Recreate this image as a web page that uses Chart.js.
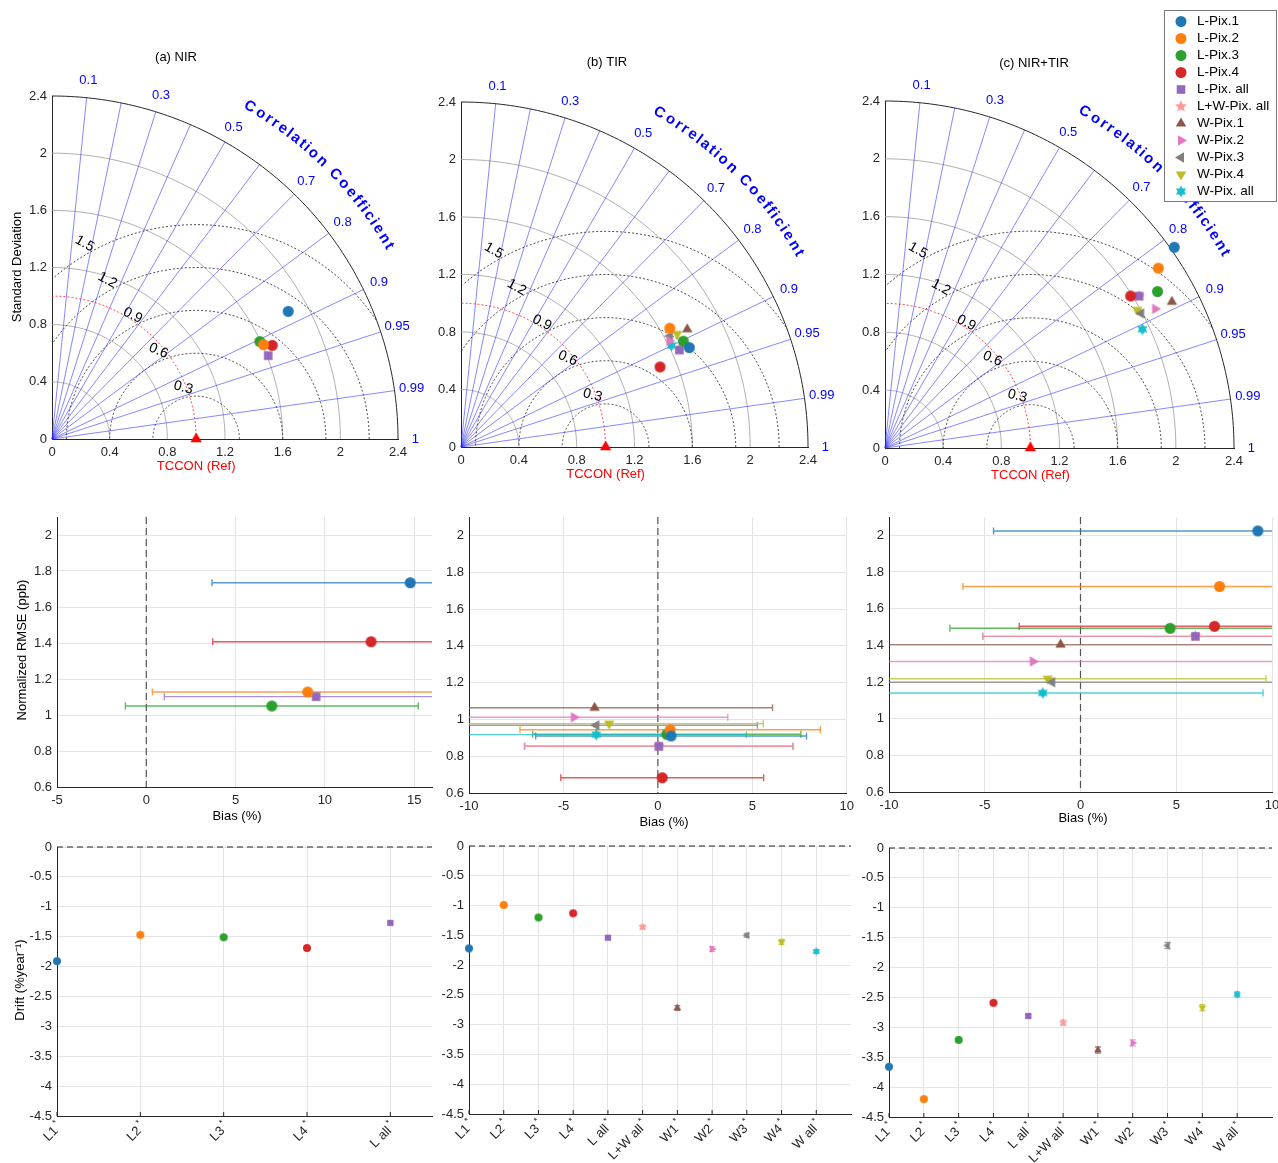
<!DOCTYPE html>
<html>
<head>
<meta charset="UTF-8">
<title>Taylor diagrams, bias and drift</title>
<style>
  body { margin: 0; background: #fff; overflow: hidden; }
  #wrap { position: relative; width: 1278px; height: 1163px; overflow: hidden; }
  canvas { position: absolute; }
</style>
</head>
<body>
<div id="wrap"></div>
<script src="https://cdn.jsdelivr.net/npm/chart.js"></script>
<script>
// ---- series ----
const names = ['L-Pix.1', 'L-Pix.2', 'L-Pix.3', 'L-Pix.4', 'L-Pix. all', 'L+W-Pix. all',
               'W-Pix.1', 'W-Pix.2', 'W-Pix.3', 'W-Pix.4', 'W-Pix. all'];
const shortNames = ['L1', 'L2', 'L3', 'L4', 'L all', 'L+W all', 'W1', 'W2', 'W3', 'W4', 'W all'];
const colors = ['#1f77b4', '#ff7f0e', '#2ca02c', '#d62728', '#9467bd', '#ff9896',
                '#8c564b', '#e377c2', '#7f7f7f', '#bcbd22', '#17becf'];
const kinds = ['o', 'o', 'o', 'o', 's', 'p', '^', '>', '<', 'v', 'h'];

// ---- Taylor diagrams: normalised std and correlation ----
const stdNIR = [1.866, 1.609, 1.595, 1.662, 1.609];
const corNIR = [0.878, 0.912, 0.904, 0.919, 0.932];
const stdTIR = [1.724, 1.664, 1.705, 1.485, 1.654, 1.655, 1.766, 1.619, 1.638, 1.690, 1.618];
const corTIR = [0.916, 0.868, 0.902, 0.927, 0.913, 0.912, 0.886, 0.890, 0.882, 0.885, 0.900];
const stdBoth = [2.426, 2.254, 2.164, 1.990, 2.039, 2.039, 2.217, 2.092, 1.992, 1.980, 1.951];
const corBoth = [0.820, 0.834, 0.866, 0.849, 0.857, 0.857, 0.890, 0.888, 0.884, 0.876, 0.907];
const taylorTicks = [0, 0.4, 0.8, 1.2, 1.6, 2, 2.4];
const corLines = [0.1, 0.2, 0.3, 0.4, 0.5, 0.6, 0.7, 0.8, 0.9, 0.95, 0.99];
const corLabels = [0.1, 0.3, 0.5, 0.7, 0.8, 0.9, 0.95, 0.99, 1];
const stdArcs = [0.4, 0.8, 1.2, 1.6, 2];
const rmsArcs = [0.3, 0.6, 0.9, 1.2, 1.5];

// ---- bias vs normalised RMSE ----
const biasNIR = [14.78, 9.04, 7.03, 12.59, 9.51];
const rmseNIR = [1.735, 1.128, 1.05, 1.407, 1.102];
const errNIR = [11.1, 8.7, 8.2, 8.87, 8.5];
const biasTIR = [0.70, 0.65, 0.47, 0.23, 0.05, 0.05, -3.35, -4.45, -3.26, -2.58, -3.26];
const rmseTIR = [0.910, 0.944, 0.919, 0.683, 0.854, 0.854, 1.063, 1.012, 0.968, 0.977, 0.917];
const errTIR = [7.17, 7.95, 7.1, 5.37, 7.1, 7.13, 9.42, 8.15, 8.53, 8.16, 7.94];
const biasBoth = [9.26, 7.26, 4.68, 7.0, 6.0, 6.0, -1.04, -2.49, -1.48, -1.71, -1.97];
const rmseBoth = [2.024, 1.721, 1.493, 1.504, 1.449, 1.449, 1.404, 1.312, 1.199, 1.218, 1.140];
const errBoth = [13.8, 13.4, 11.5, 10.2, 11.1, 11.1, 12.5, 13.0, 12.0, 11.4, 11.5];
const rmseTicks = [0.6, 0.8, 1, 1.2, 1.4, 1.6, 1.8, 2];

// ---- drift ----
const driftNIR = [-1.91, -1.47, -1.51, -1.69, -1.27];
const driftTIR = [-1.72, -0.99, -1.20, -1.13, -1.54, -1.36, -2.72, -1.73, -1.50, -1.61, -1.77];
const driftBoth = [-3.66, -4.20, -3.21, -2.59, -2.81, -2.92, -3.38, -3.26, -1.63, -2.67, -2.45];
const dErrNIR = [0.02, 0.02, 0.02, 0.02, 0.02];
const dErrTIR = [0.02, 0.02, 0.02, 0.02, 0.02, 0.03, 0.04, 0.04, 0.03, 0.04, 0.03];
const dErrBoth = [0.02, 0.02, 0.02, 0.02, 0.02, 0.04, 0.05, 0.05, 0.05, 0.05, 0.04];
const driftTicks = [0, -0.5, -1, -1.5, -2, -2.5, -3, -3.5, -4, -4.5];

const FONT = '"Liberation Sans", Arial, Helvetica, sans-serif';
Chart.defaults.font.family = FONT;
Chart.defaults.font.size = 13;
Chart.defaults.color = '#262626';

const wrap = document.getElementById('wrap');
const fmt = v => String(Math.round(v * 100) / 100);
const rad = d => d * Math.PI / 180;

function drawMarker(g, kind, color, x, y, r) {
  g.save();
  g.translate(x, y);
  g.fillStyle = color;
  g.beginPath();
  if (kind === 'o') {
    g.arc(0, 0, r, 0, 2 * Math.PI);
  } else if (kind === 's') {
    g.rect(-0.78 * r, -0.78 * r, 1.56 * r, 1.56 * r);
  } else if (kind === 'p' || kind === 'h') {
    const n = kind === 'p' ? 5 : 6;
    const R = kind === 'p' ? r * 1.15 : r * 1.05;
    const inner = kind === 'p' ? 0.45 : 0.58;
    for (let k = 0; k < 2 * n; k++) {
      const a = -Math.PI / 2 + k * Math.PI / n, rr = k % 2 ? R * inner : R;
      g.lineTo(rr * Math.cos(a), rr * Math.sin(a));
    }
    g.closePath();
  } else {
    g.rotate(rad({'^': 0, '>': 90, '<': -90, 'v': 180}[kind]));
    g.moveTo(0, -r * 1.1);
    g.lineTo(r * 0.95, r * 0.55);
    g.lineTo(-r * 0.95, r * 0.55);
    g.closePath();
  }
  g.fill();
  g.restore();
}

function markerImg(kind, color, r) {
  const s = Math.ceil(2 * r + 4);
  const c = document.createElement('canvas');
  c.width = c.height = s;
  drawMarker(c.getContext('2d'), kind, color, s / 2, s / 2, r);
  return c;
}

function text(ctx, s, x, y, o = {}) {
  ctx.save();
  ctx.font = o.font || '13px ' + FONT;
  ctx.fillStyle = o.color || '#000';
  ctx.textAlign = o.align || 'center';
  ctx.textBaseline = o.base || 'middle';
  ctx.translate(x, y);
  if (o.rot) ctx.rotate(rad(o.rot));
  ctx.fillText(s, 0, 0);
  ctx.restore();
}

function axis(min, max, ticks, o = {}) {
  return {
    type: 'linear', min, max,
    afterBuildTicks: s => { s.ticks = ticks.map(v => ({value: v})); },
    grid: {display: !!o.grid, color: '#e4e4e4', drawTicks: false},
    border: {display: true, color: '#262626', width: 1},
    ticks: {display: o.labels !== false, padding: o.pad || 5, color: '#262626',
            font: {size: 13}, callback: v => fmt(v), maxRotation: 0, autoSkip: false}
  };
}

// box: [left, top, width, height] of the canvas; area: [x0, y0, x1, y1] of the plot, page px
function panel(box, area, datasets, scales, plugins) {
  const c = document.createElement('canvas');
  c.width = box[2]; c.height = box[3];
  c.style.left = box[0] + 'px'; c.style.top = box[1] + 'px';
  wrap.appendChild(c);
  scales.x.afterFit = s => { s.height = box[1] + box[3] - area[3]; };
  scales.y.afterFit = s => { s.width = area[0] - box[0]; };
  plugins.forEach(p => { p.box = box; });
  return new Chart(c, {
    type: 'scatter',
    data: {datasets},
    options: {
      responsive: false, animation: false, events: [],
      layout: {padding: {left: 0, bottom: 0, top: area[1] - box[1], right: box[0] + box[2] - area[2]}},
      plugins: {legend: {display: false}, tooltip: {enabled: false}},
      scales
    },
    plugins
  });
}

function pageTexts(list) {
  return {
    id: 'pageTexts',
    afterDraw(chart) {
      const ctx = chart.ctx, b = this.box;
      ctx.save();
      ctx.translate(-b[0], -b[1]);
      list.forEach(t => text(ctx, t.s, t.x, t.y, t));
      ctx.restore();
    }
  };
}

// error bars drawn through the chart scales
const errPlugin = () => ({
  id: 'errbars',
  beforeDatasetsDraw(chart) {
    const ctx = chart.ctx, xs = chart.scales.x, ys = chart.scales.y, a = chart.chartArea;
    chart.data.datasets.forEach(ds => {
      if (ds.errX == null && ds.errY == null) return;
      const p = ds.data[0];
      ctx.save();
      ctx.strokeStyle = ds.errColor;
      ctx.globalAlpha = 0.75;
      ctx.lineWidth = 1.4;
      if (ds.errX != null) {
        ctx.beginPath();
        ctx.rect(a.left, a.top - 10, a.width, a.height + 20);
        ctx.clip();
        const x0 = xs.getPixelForValue(p.x - ds.errX), x1 = xs.getPixelForValue(p.x + ds.errX);
        const y = ys.getPixelForValue(p.y);
        ctx.beginPath();
        ctx.moveTo(x0, y); ctx.lineTo(x1, y);
        ctx.moveTo(x0, y - 3.5); ctx.lineTo(x0, y + 3.5);
        ctx.moveTo(x1, y - 3.5); ctx.lineTo(x1, y + 3.5);
        ctx.stroke();
      } else {
        const y0 = ys.getPixelForValue(p.y - ds.errY), y1 = ys.getPixelForValue(p.y + ds.errY);
        const x = xs.getPixelForValue(p.x);
        ctx.beginPath();
        ctx.moveTo(x, y0); ctx.lineTo(x, y1);
        ctx.moveTo(x - 3, y0); ctx.lineTo(x + 3, y0);
        ctx.moveTo(x - 3, y1); ctx.lineTo(x + 3, y1);
        ctx.stroke();
      }
      ctx.restore();
    });
  }
});

function pointSet(i, x, y, r, extra = {}) {
  return Object.assign({
    label: names[i],
    data: [{x, y}],
    pointStyle: markerImg(kinds[i], colors[i], r),
    pointRadius: r, pointHoverRadius: r,
    clip: false,
    errColor: colors[i]
  }, extra);
}

// ---------- Taylor diagrams ----------
const rmsLabelAng = [104, 113, 117, 119, 119.5];

function taylorPlugin() {
  return {
    id: 'taylor',
    beforeDatasetsDraw(chart) {
      const ctx = chart.ctx, xs = chart.scales.x, ys = chart.scales.y;
      const P = (r, th) => [xs.getPixelForValue(r * Math.cos(th)), ys.getPixelForValue(r * Math.sin(th))];
      const Q = (x, y) => [xs.getPixelForValue(x), ys.getPixelForValue(y)];
      const poly = pts => { ctx.beginPath(); pts.forEach((p, k) => k ? ctx.lineTo(p[0], p[1]) : ctx.moveTo(p[0], p[1])); ctx.stroke(); };
      const quarter = r => { const pts = []; for (let k = 0; k <= 120; k++) pts.push(P(r, Math.PI / 2 * k / 120)); return pts; };
      ctx.save();
      // std arcs
      ctx.strokeStyle = '#9a9a9a'; ctx.lineWidth = 0.8;
      stdArcs.forEach(r => poly(quarter(r)));
      // RMS arcs about the reference
      ctx.strokeStyle = '#333'; ctx.setLineDash([2, 2]); ctx.lineWidth = 0.9;
      rmsArcs.forEach(R => {
        let seg = [];
        for (let k = 0; k <= 240; k++) {
          const th = Math.PI * k / 240, x = 1 + R * Math.cos(th), y = R * Math.sin(th);
          if (x * x + y * y <= 2.4 * 2.4 && x >= 0) seg.push(Q(x, y));
          else { if (seg.length > 1) poly(seg); seg = []; }
        }
        if (seg.length > 1) poly(seg);
      });
      // reference std arc
      ctx.strokeStyle = '#ff3030'; ctx.setLineDash([2, 2]);
      poly(quarter(1));
      ctx.setLineDash([]);
      // correlation rays
      ctx.strokeStyle = 'rgba(40,40,255,0.7)'; ctx.lineWidth = 0.8;
      corLines.forEach(c => { const th = Math.acos(c); poly([P(0, th), P(2.4, th)]); });
      // outer arc
      ctx.strokeStyle = '#262626'; ctx.lineWidth = 1;
      poly(quarter(2.4));
      // labels
      corLabels.forEach(c => {
        const [x, y] = P(2.52, Math.acos(c));
        text(ctx, fmt(c), x, y, {color: '#0000ff'});
      });
      rmsArcs.forEach((R, k) => {
        const a = rad(rmsLabelAng[k]);
        const [x, y] = Q(1 + (R + 0.07) * Math.cos(a), (R + 0.07) * Math.sin(a));
        text(ctx, fmt(R), x, y, {font: '14px ' + FONT, rot: rmsLabelAng[k] - 90});
      });
      // curved axis title
      const s = 'Correlation Coefficient';
      ctx.font = 'bold 15px ' + FONT;
      const ws = [...s].map(ch => ctx.measureText(ch).width);
      const tot = ws.reduce((a, b) => a + b, 0);
      const th0 = rad(60.5), th1 = rad(29.5);
      let acc = 0;
      [...s].forEach((ch, k) => {
        const th = th0 + (th1 - th0) * (acc + ws[k] / 2) / tot;
        acc += ws[k];
        const [x, y] = P(2.7, th);
        text(ctx, ch, x, y, {font: 'bold 15px ' + FONT, color: '#0000ff', rot: 90 - th * 180 / Math.PI});
      });
      // reference label
      const [rx] = Q(1, 0);
      text(ctx, 'TCCON (Ref)', rx, ys.getPixelForValue(0) + 27, {color: '#ff0000'});
      ctx.restore();
    }
  };
}

function taylorSets(std, cor) {
  const sets = std.map((s, i) => pointSet(i, s * cor[i], s * Math.sqrt(1 - cor[i] * cor[i]), 5.5));
  sets.unshift({
    label: 'TCCON (Ref)', data: [{x: 1, y: 0}],
    pointStyle: markerImg('^', '#ff0000', 6), pointRadius: 6, clip: false
  });
  return sets;
}

function taylorScales() {
  return {x: axis(0, 2.4, taylorTicks, {pad: 6}), y: axis(0, 2.4, taylorTicks, {pad: 5})};
}

panel([0, 30, 445, 460], [52, 96, 398, 439], taylorSets(stdNIR, corNIR), taylorScales(),
  [taylorPlugin(), pageTexts([
    {s: '(a) NIR', x: 176, y: 57},
    {s: 'Standard Deviation', x: 17, y: 267, rot: -90}
  ])]);

panel([425, 30, 430, 460], [461, 102, 808, 447], taylorSets(stdTIR, corTIR), taylorScales(),
  [taylorPlugin(), pageTexts([{s: '(b) TIR', x: 607, y: 62}])]);

const legendPlugin = {
  id: 'legendBox',
  afterDraw(chart) {
    const ctx = chart.ctx, b = this.box;
    ctx.save();
    ctx.translate(-b[0], -b[1]);
    ctx.fillStyle = '#fff';
    ctx.fillRect(1164.5, 10.5, 112, 191);
    ctx.strokeStyle = '#7a7a7a'; ctx.lineWidth = 1;
    ctx.strokeRect(1164.5, 10.5, 112, 191);
    names.forEach((n, i) => {
      const y = 21.5 + 17 * i;
      drawMarker(ctx, kinds[i], colors[i], 1181, y, 5.5);
      text(ctx, n, 1197, y, {align: 'left', font: '13.5px ' + FONT});
    });
    ctx.restore();
  }
};

panel([850, 0, 440, 490], [885, 101, 1234, 448], taylorSets(stdBoth, corBoth), taylorScales(),
  [taylorPlugin(), pageTexts([{s: '(c) NIR+TIR', x: 1034, y: 63}]), legendPlugin]);

// ---------- bias / RMSE panels ----------
const zeroLine = () => ({
  id: 'zeroLine',
  beforeDatasetsDraw(chart) {
    const ctx = chart.ctx, a = chart.chartArea, x = chart.scales.x.getPixelForValue(0);
    ctx.save();
    ctx.strokeStyle = '#555'; ctx.lineWidth = 1.2; ctx.setLineDash([7, 4]);
    ctx.beginPath(); ctx.moveTo(x, a.top); ctx.lineTo(x, a.bottom); ctx.stroke();
    ctx.restore();
  }
});

function biasSets(bias, rmse, err) {
  return bias.map((b, i) => pointSet(i, b, rmse[i], 5.5, {errX: err[i]}));
}

panel([0, 490, 445, 340], [57, 517, 432, 787], biasSets(biasNIR, rmseNIR, errNIR),
  {x: axis(-5, 16, [-5, 0, 5, 10, 15], {grid: true, pad: 6}), y: axis(0.6, 2.1, rmseTicks, {grid: true})},
  [zeroLine(), errPlugin(), pageTexts([
    {s: 'Bias (%)', x: 237, y: 816},
    {s: 'Normalized RMSE (ppb)', x: 22, y: 650, rot: -90}
  ])]);

panel([430, 490, 430, 340], [469, 517, 851, 793], biasSets(biasTIR, rmseTIR, errTIR),
  {x: axis(-10, 10, [-10, -5, 0, 5, 10], {grid: true, pad: 6}), y: axis(0.6, 2.1, rmseTicks, {grid: true})},
  [zeroLine(), errPlugin(), pageTexts([{s: 'Bias (%)', x: 664, y: 822}])]);

panel([855, 490, 440, 340], [889, 517, 1272, 792], biasSets(biasBoth, rmseBoth, errBoth),
  {x: axis(-10, 10, [-10, -5, 0, 5, 10], {grid: true, pad: 6}), y: axis(0.6, 2.1, rmseTicks, {grid: true})},
  [zeroLine(), errPlugin(), pageTexts([{s: 'Bias (%)', x: 1083, y: 818}])]);

// ---------- drift panels ----------
const driftDeco = n => ({
  id: 'driftDeco',
  afterDraw(chart) {
    const ctx = chart.ctx, a = chart.chartArea, xs = chart.scales.x, ys = chart.scales.y;
    ctx.save();
    ctx.strokeStyle = '#222'; ctx.lineWidth = 1; ctx.setLineDash([6, 4]);
    const y0 = ys.getPixelForValue(0);
    ctx.beginPath(); ctx.moveTo(a.left, y0); ctx.lineTo(a.right, y0); ctx.stroke();
    ctx.setLineDash([]);
    for (let i = 0; i < n; i++) {
      const x = xs.getPixelForValue(i);
      ctx.strokeStyle = '#262626';
      ctx.beginPath(); ctx.moveTo(x, a.bottom); ctx.lineTo(x, a.bottom - 4); ctx.stroke();
      ctx.save();
      ctx.translate(x + 3, a.bottom + 9);
      ctx.rotate(rad(-45));
      ctx.font = '9px ' + FONT;
      ctx.fillStyle = '#262626';
      ctx.textBaseline = 'middle';
      ctx.textAlign = 'right';
      ctx.fillText('*', 0, -5);
      const aw = ctx.measureText('*').width + 2;
      ctx.font = '13px ' + FONT;
      ctx.fillText(shortNames[i], -aw, 0);
      ctx.restore();
    }
    ctx.restore();
  }
});

function driftSets(drift, err) {
  return drift.map((d, i) => pointSet(i, i, d, 4, {errY: err[i]}));
}

function driftScales(n, max) {
  const idx = [...Array(n).keys()];
  return {x: axis(0, max, idx, {grid: true, labels: false}), y: axis(-4.5, 0, driftTicks, {grid: true})};
}

panel([0, 830, 445, 333], [57, 847, 432, 1116], driftSets(driftNIR, dErrNIR), driftScales(5, 4.5),
  [errPlugin(), driftDeco(5), pageTexts([{s: 'Drift (%year\u207B\u00B9)', x: 20, y: 980, rot: -90}])]);

panel([430, 830, 430, 333], [469, 846, 851, 1114], driftSets(driftTIR, dErrTIR), driftScales(11, 11),
  [errPlugin(), driftDeco(11)]);

panel([855, 830, 440, 333], [889, 848, 1272, 1117], driftSets(driftBoth, dErrBoth), driftScales(11, 11),
  [errPlugin(), driftDeco(11)]);
</script>
</body>
</html>
